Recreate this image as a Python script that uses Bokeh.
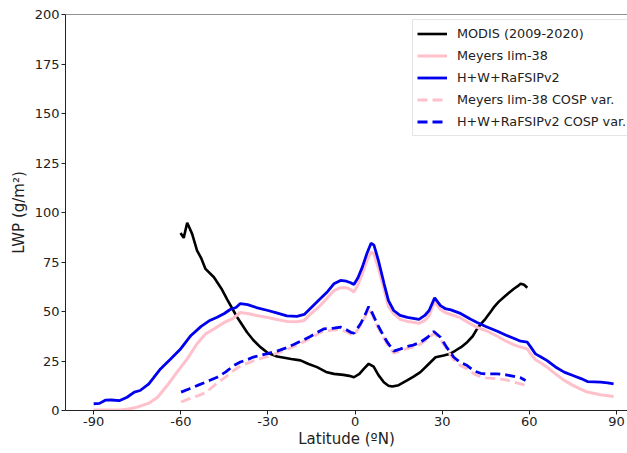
from bokeh.plotting import figure
from bokeh.models import FixedTicker, Span, Legend, LegendItem, Range1d
from bokeh.embed import file_html
from bokeh.resources import INLINE

# ---------------- data ----------------
x_ticks = [-90, -60, -30, 0, 30, 60, 90]
x_tick_labels = ["-90", "-60", "-30", "0", "30", "60", "90"]
y_ticks = [0, 25, 50, 75, 100, 125, 150, 175, 200]

modis_lat = [-60.1, -59, -57.8, -56.1, -54.4, -53, -51.5, -48.6, -46, -44, -40.6, -37.2, -35, -32.6, -30,
             -26.8, -22, -18.8, -16, -13.1, -10, -7.3, -4, -2, -0.4, 1.5, 3, 4.7, 6.4, 8, 9.9, 11.5, 12.8,
             15, 17.9, 20, 22.5, 25, 27.7, 30.5, 32.5, 34.6, 36.5, 38.6, 40.5, 42, 43.5, 44.9, 46.5, 47.8,
             49.5, 51.2, 53, 54.7, 56, 57, 58.2, 59.3]
modis_lwp = [89.6, 87.2, 94.8, 89.2, 80.8, 77, 71.5, 67.3, 61.5, 56, 47.1, 39.5, 35.5, 32, 29,
             27.3, 26, 25.3, 23.5, 21.9, 19.5, 18.5, 18, 17.5, 16.8, 18.5, 21, 23.6, 22.2, 18, 14.3, 12.5, 12.1,
             12.8, 15.2, 17, 19.4, 23, 26.9, 27.8, 28.5, 30.3, 32, 34.5, 37.5, 41.2, 44, 46.3, 49.5, 52.2,
             55, 57.2, 59.5, 61.5, 62.8, 64, 63.5, 62]

meyers_lat = [-90, -85, -80, -77, -75, -71, -68, -64.7, -61.3, -57.8, -54.4, -51.5, -48.6, -45, -42, -39.5,
              -37, -34, -30, -27, -23.5, -20, -17.5, -15.5, -12, -9.5, -7.3, -5, -3, -1.5, -0.4, 1, 2.5, 4,
              5.5, 6.5, 8, 10, 11.5, 13.3, 15.5, 18, 20, 22, 24, 25.5, 27.4, 29.4, 31, 33, 36, 39.5, 42, 45,
              49, 52, 55, 57, 59.3, 60.5, 62.1, 64, 66, 69, 72, 75, 78, 80, 84.5, 87, 89]
meyers_lwp = [0.3, 0.3, 0.4, 1.0, 1.7, 3.7, 6.7, 12.6, 19.4, 26.1, 33.7, 38.7, 41.2, 44.5, 46.5, 49.5,
              49, 48, 47, 46, 45, 44.8, 45.5, 48.5, 53, 57, 60.5, 62, 62, 61, 59.9, 63.5, 69, 75.5,
              80, 79, 72, 61, 52.5, 48.8, 46, 45, 44.6, 44, 45.5, 48, 55, 51, 49.5, 48.5, 47, 44, 42, 40.4,
              37.5, 35, 33, 32, 31.1, 28.5, 25.6, 24, 22, 18.5, 15.2, 12.7, 10.5, 9.3, 8, 7.5, 7.1]

hw_lat = [-90, -88, -86, -84, -81, -78.5, -76, -74, -71, -67, -63.5, -60, -56.5, -53, -50, -47.5, -45, -43,
          -41, -39.5, -37, -34, -30, -27, -23.5, -20, -17.5, -15.5, -12, -9.5, -7.3, -5, -3, -1.5, -0.4, 1,
          2.5, 4, 5.5, 6.5, 8, 10, 11.5, 13.3, 15.5, 18, 20, 22, 24, 25.5, 27.4, 29.4, 31, 33, 36, 39.5, 42,
          45, 49, 52, 55, 57, 59.3, 60.5, 62.1, 64, 66, 69, 72, 75, 78, 80, 84.5, 87, 89]
hw_lwp = [3.4, 3.6, 5.2, 5.3, 5.0, 6.7, 9.3, 10.1, 13.5, 21, 26, 31.2, 37.9, 42.5, 45.5, 47.1, 49, 51,
          52, 54, 53.5, 52, 50.5, 49.3, 47.8, 47.5, 48.5, 51.4, 56.4, 60, 64, 65.7, 65.3, 64.5, 63.6, 67,
          72.4, 79, 84.5, 83.5, 76, 64, 55.5, 50.5, 48, 47, 46.5, 46, 48, 50.5, 56.9, 53, 51.5, 50.8, 49.2, 46.3, 44.5,
          42.4, 40, 38, 36.2, 35, 34.5, 32, 28.6, 27, 25.3, 22, 19.4, 17.7, 16, 14.6, 14.3, 14, 13.5]

cosp_lat = [-59.9, -57, -54, -51.5, -47.5, -44.5, -41.8, -39.5, -37.2, -35, -32.6, -29.5, -26.8, -24, -21.1,
            -18, -15.4, -13, -10.8, -7.3, -5, -3, -1.5, -0.4, 1.9, 3.5, 4.7, 6, 7.6, 9.5, 11.1, 13.3, 15.5,
            17.9, 20, 22.5, 25, 27.1, 29.4, 31.5, 34, 36, 38.6, 41, 43.2, 45, 48.9, 52, 54.7, 57, 58.7]
hw_cosp_lwp = [9.3, 11, 12.8, 14.3, 16.8, 19.5, 22.7, 24.5, 25.6, 27, 27.8, 29, 30, 31.5, 33.3,
               35.5, 37.4, 39.5, 41.2, 41.6, 42.1, 40.8, 39.5, 39, 43.8, 48.5, 52.5, 49, 43.8, 38.5, 34.5, 30, 31,
               32.3, 33, 34.5, 37, 39.9, 37, 32, 26.9, 24.5, 22.7, 20, 18.8, 18.5, 18.5, 18, 17.2, 16.5, 15.2]
meyers_cosp_lwp = [4.3, 6.0, 7.5, 9.0, 13.8, 17, 20.2, 22.5, 23.8, 25, 26.2, 27.5, 29, 30.5, 32.3,
                   34.5, 36.5, 38.5, 40.2, 40.6, 41, 39.8, 38.5, 38, 42.8, 47.5, 51.5, 48, 42.8, 37.5, 33.5, 29, 30,
                   31.3, 32, 33.5, 36, 39, 36, 31, 25.5, 23, 21, 18.5, 17, 16.5, 16, 15.5, 14.3, 13.5, 12.6]

labels = ["MODIS (2009-2020)", "Meyers lim-38", "H+W+RaFSIPv2",
          "Meyers lim-38 COSP var.", "H+W+RaFSIPv2 COSP var."]

# ---------------- figure ----------------
FONT = "DejaVu Sans"
p = figure(width=627, height=453, output_backend="svg", toolbar_location=None,
           x_range=Range1d(-99.7, 93.8), y_range=Range1d(0, 200),
           min_border_left=65, min_border_right=0, min_border_top=14, min_border_bottom=43)
p.outline_line_color = None
p.grid.visible = False
p.background_fill_color = "white"
p.border_fill_color = "white"

r0 = p.line(modis_lat, modis_lwp, line_color="black", line_width=2.6)
r1 = p.line(meyers_lat, meyers_lwp, line_color="pink", line_width=3)
r2 = p.line(hw_lat, hw_lwp, line_color="#0000ee", line_width=2.8)
r3 = p.line(cosp_lat, meyers_cosp_lwp, line_color="pink", line_width=2.8, line_dash="10 5")
r4 = p.line(cosp_lat, hw_cosp_lwp, line_color="#0000ee", line_width=2.8, line_dash="10 5")

p.add_layout(Span(location=200, dimension="width", line_color="#222222", line_width=1))

for ax in (p.xaxis[0], p.yaxis[0]):
    ax.axis_line_color = "#222222"
    ax.major_tick_line_color = "#222222"
    ax.minor_tick_line_color = None
    ax.major_tick_in = 0
    ax.major_tick_out = 4
    ax.major_label_text_font = FONT
    ax.major_label_text_font_size = "13px"
    ax.major_label_text_color = "#222222"
    ax.axis_label_text_font = FONT
    ax.axis_label_text_font_size = "15px"
    ax.axis_label_text_font_style = "normal"
    ax.axis_label_text_color = "#222222"
    ax.major_label_standoff = 2

p.xaxis.ticker = FixedTicker(ticks=x_ticks)
p.xaxis.major_label_overrides = {t: s for t, s in zip(x_ticks, x_tick_labels)}
p.yaxis.ticker = FixedTicker(ticks=y_ticks)
p.xaxis.axis_label = "Latitude (ºN)"
p.yaxis.axis_label = "LWP (g/m²)"
p.xaxis.axis_label_standoff = 1
p.yaxis.axis_label_standoff = 4

legend = Legend(items=[LegendItem(label=labels[i], renderers=[r]) for i, r in enumerate([r0, r1, r2, r3, r4])],
                location=(347, 274), padding=4, spacing=3,
                glyph_width=30, glyph_height=19, label_height=19, label_standoff=10,
                label_text_font=FONT, label_text_font_size="12.8px", label_text_color="#222222",
                border_line_color="#cccccc", border_line_width=1,
                background_fill_color="white", background_fill_alpha=0.85)
p.add_layout(legend, "center")

open("out.html", "w").write(file_html(p, INLINE))
